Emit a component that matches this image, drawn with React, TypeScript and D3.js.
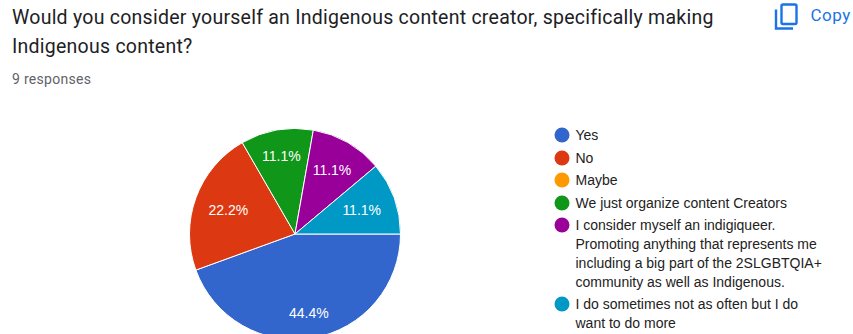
import React from "react";
import * as d3 from "d3";

const titleLines = [
  "Would you consider yourself an Indigenous content creator, specifically making",
  "Indigenous content?",
];
const responsesLabel = "9 responses";
const categories = [
  "Yes",
  "No",
  "Maybe",
  "We just organize content Creators",
  "I consider myself an indigiqueer.",
  "I do sometimes not as often but I do",
];
const legendLines = [
  ["Yes"],
  ["No"],
  ["Maybe"],
  ["We just organize content Creators"],
  [
    "I consider myself an indigiqueer.",
    "Promoting anything that represents me",
    "including a big part of the 2SLGBTQIA+",
    "community as well as Indigenous.",
  ],
  ["I do sometimes not as often but I do", "want to do more"],
];
const counts = [4, 2, 0, 1, 1, 1];
const percentLabels = ["44.4%", "22.2%", "", "11.1%", "11.1%", "11.1%"];
const colors = ["#3366cc", "#dc3912", "#ff9900", "#109618", "#990099", "#0099c6"];
const legendRowY = [135, 158, 180, 203, 225, 304];

const WIDTH = 853;
const HEIGHT = 334;
const CX = 295;
const CY = 234;
const RADIUS = 105.5;
const LABEL_RADII = [80, 71, 0, 79, 74, 71];

const pieLayout = d3
  .pie<number>()
  .sort(null)
  .startAngle(Math.PI / 2)
  .endAngle(Math.PI / 2 + 2 * Math.PI);
const slices = pieLayout(counts);
const arcPath = d3.arc<d3.PieArcDatum<number>>().innerRadius(0).outerRadius(RADIUS);

const ROBOTO = "Roboto, sans-serif";
const ARIAL = "'Liberation Sans', Arial, sans-serif";

export default function App() {
  return (
    <svg
      width={WIDTH}
      height={HEIGHT}
      viewBox={`0 0 ${WIDTH} ${HEIGHT}`}
      style={{ position: "fixed", left: 0, top: 0, background: "#fff" }}
    >
      {titleLines.map((line, i) => (
        <text
          key={line}
          x={12}
          y={23.5 + i * 29}
          fontFamily={ROBOTO}
          fontSize={19.5}
          letterSpacing={0.25}
          fill="#202124"
        >
          {line}
        </text>
      ))}
      <text x={12} y={84} fontFamily={ROBOTO} fontSize={14} letterSpacing={0.3} fill="#5f6368">
        {responsesLabel}
      </text>

      {/* Copy action */}
      <g fill="none" stroke="#1a73e8" strokeWidth={2.4}>
        <rect x={781.5} y={4.5} width={15} height={19.5} rx={1.5} />
        <path d="M776 9.5 V28.5 H793" />
      </g>
      <text x={810.5} y={21} fontFamily={ROBOTO} fontSize={17} letterSpacing={0.5} fill="#1a73e8">
        Copy
      </text>

      {/* Pie slices */}
      <g transform={`translate(${CX},${CY})`}>
        {slices.map((s, i) =>
          s.value > 0 ? (
            <path key={categories[i]} d={arcPath(s) ?? ""} fill={colors[i]} stroke="#fff" strokeWidth={1} />
          ) : null
        )}
        {slices.map((s, i) => {
          if (s.value === 0) return null;
          const mid = (s.startAngle + s.endAngle) / 2;
          const r = LABEL_RADII[i];
          return (
            <text
              key={categories[i]}
              x={Math.sin(mid) * r}
              y={-Math.cos(mid) * r}
              dy="0.36em"
              textAnchor="middle"
              fontFamily={ARIAL}
              fontSize={14}
              fill="#fff"
            >
              {percentLabels[i]}
            </text>
          );
        })}
      </g>

      {/* Legend */}
      {legendLines.map((lines, i) => (
        <g key={categories[i]}>
          <circle cx={562} cy={legendRowY[i]} r={7.5} fill={colors[i]} />
          {lines.map((line, j) => (
            <text
              key={line}
              x={575.5}
              y={legendRowY[i] + j * 19}
              dy="0.36em"
              fontFamily={ARIAL}
              fontSize={14}
              fill="#222222"
            >
              {line}
            </text>
          ))}
        </g>
      ))}
    </svg>
  );
}
